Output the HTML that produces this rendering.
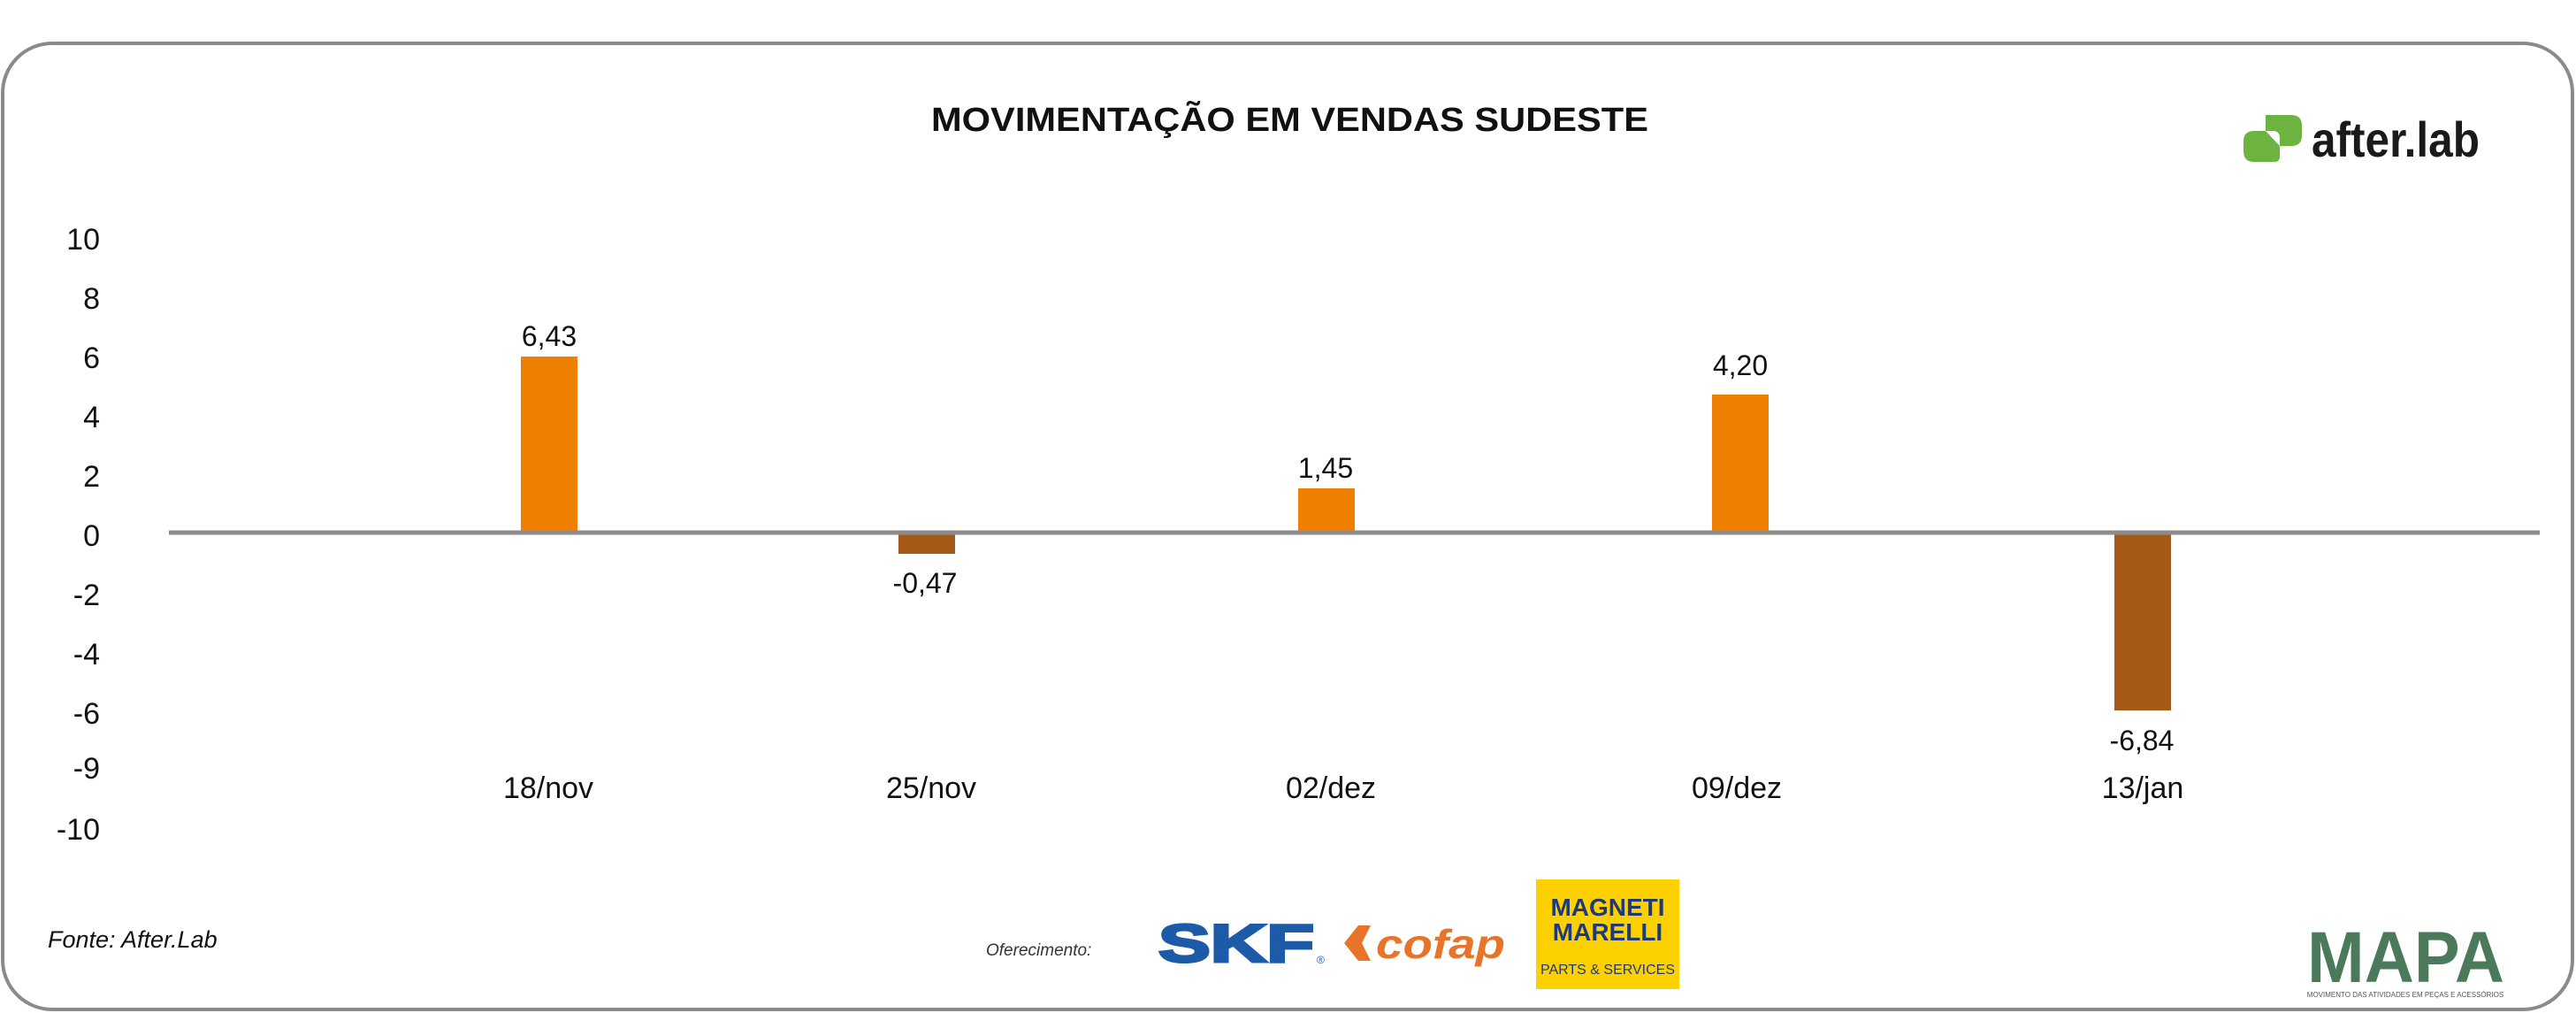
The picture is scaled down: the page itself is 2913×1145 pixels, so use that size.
<!DOCTYPE html>
<html><head><meta charset="utf-8"><style>
html,body{margin:0;padding:0;background:#fff;width:2913px;height:1145px;overflow:hidden}
svg{display:block}
text{font-family:"Liberation Sans",sans-serif}
</style></head><body>
<svg width="2913" height="1145" viewBox="0 0 2913 1145" xmlns="http://www.w3.org/2000/svg">
<rect x="3" y="49" width="2906" height="1092" rx="56" ry="56" fill="#fff" stroke="#8a8a8a" stroke-width="4"/>
<text x="1053" y="148" textLength="811" lengthAdjust="spacingAndGlyphs" font-weight="bold" font-size="38" fill="#111">MOVIMENTAÇÃO EM VENDAS SUDESTE</text>
<!-- after.lab logo -->
<path d="M2537 160 q0 -12 12 -12 h13 v35 h-13 q-12 0 -12 -12z" fill="#6cb33f"/>
<path d="M2562 130 h29 q12 0 12 12 v11 q0 12 -12 12 h-29z" fill="#6cb33f"/>
<path d="M2562 148 v35 h10 q6 0 6 -6 v-21 q0 -8 -8 -8z" fill="#6cb33f"/>
<path d="M2578 165 v-9 q0 -8 -8 -8 h-8 v0" fill="#fff"/>
<text x="2614" y="177" textLength="190" lengthAdjust="spacingAndGlyphs" font-weight="bold" font-size="56" fill="#1a1a1a">after.lab</text>
<!-- y axis labels -->
<g font-size="34" fill="#111" text-anchor="end">
<text x="113" y="282">10</text><text x="113" y="349">8</text><text x="113" y="416">6</text>
<text x="113" y="483">4</text><text x="113" y="550">2</text><text x="113" y="617">0</text>
<text x="113" y="684">-2</text><text x="113" y="751">-4</text><text x="113" y="818">-6</text>
<text x="113" y="880">-9</text><text x="113" y="949">-10</text>
</g>
<!-- bars -->
<rect x="589" y="403" width="64" height="199" fill="#ef7f00"/>
<rect x="1016" y="602" width="64" height="24" fill="#a65a18"/>
<rect x="1468" y="552" width="64" height="50" fill="#ef7f00"/>
<rect x="1936" y="446" width="64" height="156" fill="#ef7f00"/>
<rect x="2391" y="602" width="64" height="201" fill="#a65a18"/>
<line x1="191" y1="602" x2="2872" y2="602" stroke="#8c8c8c" stroke-width="5"/>
<!-- value labels -->
<g font-size="32" fill="#111" text-anchor="middle">
<text x="621" y="391">6,43</text>
<text x="1046" y="670">-0,47</text>
<text x="1499" y="540">1,45</text>
<text x="1968" y="424">4,20</text>
<text x="2422" y="848">-6,84</text>
</g>
<g font-size="34" fill="#111" text-anchor="middle">
<text x="620" y="902">18/nov</text><text x="1053" y="902">25/nov</text>
<text x="1505" y="902">02/dez</text><text x="1964" y="902">09/dez</text>
<text x="2423" y="902">13/jan</text>
</g>
<text x="54" y="1071" font-style="italic" font-size="27" fill="#111">Fonte: After.Lab</text>
<text x="1115" y="1080" font-style="italic" font-size="19" fill="#333">Oferecimento:</text>
<text x="1310" y="1087" textLength="176" lengthAdjust="spacingAndGlyphs" font-weight="bold" font-size="60" fill="#1d5aa8" stroke="#1d5aa8" stroke-width="3">SKF</text>
<text x="1489" y="1089" font-size="12" fill="#1d5aa8">®</text>
<path d="M1520 1066 l16 -20 h14 l-10 20 l10 20 h-14z" fill="#e8742a"/>
<text x="1556" y="1083" textLength="146" lengthAdjust="spacingAndGlyphs" font-weight="bold" font-style="italic" font-size="46" fill="#e8742a">cofap</text>
<rect x="1737" y="994" width="162" height="124" fill="#fdd100"/>
<text x="1818" y="1035" text-anchor="middle" font-weight="bold" font-size="28" fill="#1f3a7a">MAGNETI</text>
<text x="1818" y="1063" text-anchor="middle" font-weight="bold" font-size="28" fill="#1f3a7a">MARELLI</text>
<text x="1818" y="1101" text-anchor="middle" font-size="16" fill="#1f3a7a">PARTS &amp; SERVICES</text>
<text x="2609" y="1110" textLength="223" lengthAdjust="spacingAndGlyphs" font-weight="bold" font-size="82" fill="#4a7a5a">MAPA</text>
<text x="2720" y="1127" text-anchor="middle" font-size="8" fill="#555">MOVIMENTO DAS ATIVIDADES EM PEÇAS E ACESSÓRIOS</text>
</svg>
</body></html>
